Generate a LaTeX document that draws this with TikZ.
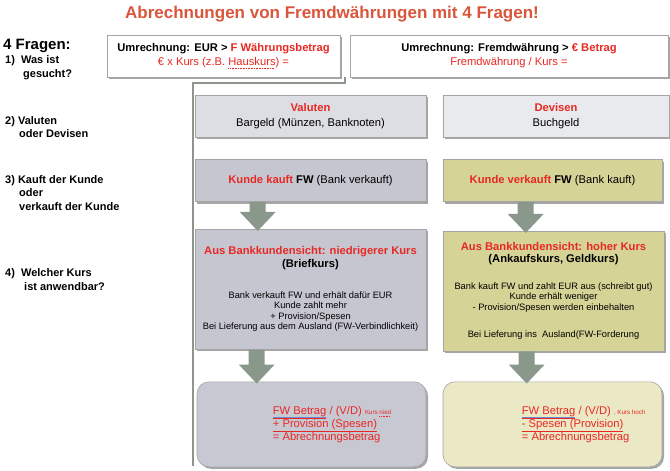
\documentclass[tikz,border=0pt]{standalone}
\usepackage{fontspec}
\setmainfont{Liberation Sans}
\usetikzlibrary{positioning, calc, shadows}

\definecolor{titelRot}{RGB}{217, 85, 60}
\definecolor{textRot}{RGB}{232, 40, 35}
\definecolor{rahmenGrau}{RGB}{165, 165, 165}
\definecolor{linieGrau}{RGB}{140, 150, 140}
\definecolor{pfeilGruen}{RGB}{138, 152, 140}
\definecolor{blauLinie}{RGB}{110, 140, 210}
\definecolor{valutenGrau}{RGB}{221, 222, 228}
\definecolor{devisenGrau}{RGB}{233, 234, 238}
\definecolor{kaufLila}{RGB}{198, 198, 209}
\definecolor{verkaufOliv}{RGB}{214, 211, 150}
\definecolor{ergLila}{RGB}{200, 200, 211}
\definecolor{ergOliv}{RGB}{235, 232, 198}

% rote Unterstreichung mit blauer Linie darunter
\newcommand{\doppelunter}[1]{\setbox0\hbox{#1}\underline{\copy0}\llap{\color{blauLinie}\rule[-3.8pt]{\wd0}{0.6pt}}}
% gepunktete Unterstreichung (Rechtschreibmarke)
\newcommand{\wellig}[1]{\setbox0\hbox{#1}\copy0\llap{\hbox to \wd0{\color{textRot}\leaders\hbox{\rule[-2.6pt]{0.9pt}{0.6pt}\kern0.7pt}\hfill}}}

\begin{document}
\begin{tikzpicture}[
      x=1pt, y=-1pt,
      kasten/.style={
        rectangle, draw=rahmenGrau, line width=0.6pt, align=center, inner sep=2pt,
        drop shadow={shadow xshift=2pt, shadow yshift=-2pt, fill=black, opacity=0.35},
        font=\fontsize{11.2}{14}\selectfont
      },
      frage/.style={kasten, fill=white, line width=0.9pt, minimum height=42pt},
      zeile/.style={kasten, minimum height=42pt},
      kurs/.style={kasten, minimum height=120pt, font=\fontsize{9.3}{10.6}\selectfont},
      ergebnis/.style={kasten, rounded corners=12pt, minimum height=85pt},
      ergtext/.style={font=\fontsize{11.2}{13}\selectfont, text=textRot, align=left, anchor=west, inner sep=0pt},
      marke/.style={font=\fontsize{11}{13.6}\selectfont\bfseries, align=left, anchor=west, inner sep=0pt},
      blockpfeil/.style={fill=pfeilGruen},
      trenn/.style={draw=linieGrau, line width=1.1pt},
    ]
      \useasboundingbox (0,0) rectangle (670,471);

      % Titel
      \node[font=\fontsize{17}{20}\selectfont\bfseries, text=titelRot] (titel) at (332,14)
        {Abrechnungen von Fremdwährungen mit 4 Fragen!};

      % Fragen links
      \node[font=\fontsize{15}{17}\selectfont\bfseries, anchor=west, inner sep=0pt] (fragen) at (3,46) {4 Fragen:};
      \node[marke] (f1) at (5,67.5) {1)\ \ Was ist\\\hspace*{18pt}gesucht?};
      \node[marke] (f2) at (5,127) {2) Valuten\\\hspace*{14pt}oder Devisen};
      \node[marke] (f3) at (5,193) {3) Kauft der Kunde\\\hspace*{14pt}oder\\\hspace*{14pt}verkauft der Kunde};
      \node[marke] (f4) at (5,279.5) {4)\ \ Welcher Kurs\\\hspace*{19pt}ist anwendbar?};

      % Umrechnung
      \node[frage, minimum width=233pt] (q1) at (223.5,56)
        {\bfseries Umrechnung: EUR > \textcolor{textRot}{F Währungsbetrag}\\
         \textcolor{textRot}{€ x Kurs (z.B. \wellig{Hauskurs}) =}};
      \node[frage, minimum width=318pt] (q2) at (509,56)
        {\bfseries Umrechnung: Fremdwährung > \textcolor{textRot}{€ Betrag}\\
         \textcolor{textRot}{Fremdwährung / Kurs =}};

      % Trennlinie
      \draw[trenn] (345,77) -- (345,83) -- (193,83) -- (193,466);

      % linke Spalte
      \node[zeile, fill=valutenGrau, minimum width=231pt] (val) at (310.5,116)
        {\textcolor{textRot}{\bfseries Valuten}\\[1pt]Bargeld (Münzen, Banknoten)};
      \node[zeile, fill=kaufLila, minimum width=231pt, below=22pt of val] (kauft)
        {\textcolor{textRot}{\bfseries Kunde kauft} \textbf{FW} (Bank verkauft)};
      \node[kurs, fill=kaufLila, minimum width=231pt, below=27pt of kauft] (kurs1)
        {{\fontsize{11.2}{13}\selectfont\bfseries\color{textRot}Aus Bankkundensicht: niedrigerer Kurs}\\[2.4pt]
         {\fontsize{11.2}{13}\selectfont\bfseries (Briefkurs)}\\[20pt]
         Bank verkauft FW und erhält dafür EUR\\
         Kunde zahlt mehr\\
         + Provision/Spesen\\
         Bei Lieferung aus dem Ausland (FW-Verbindlichkeit)};
      \node[ergebnis, fill=ergLila, minimum width=229pt, below=32pt of kurs1, xshift=1pt] (erg1) {};
      \node[ergtext] (e1) at ([xshift=76pt]erg1.west)
        {\doppelunter{FW Betrag} / (V/D) {\fontsize{6.2}{7}\selectfont Kurs \wellig{nied}}\\
         \underline{+ Provision (Spesen)}\\
         = Abrechnungsbetrag};

      % rechte Spalte
      \node[zeile, fill=devisenGrau, minimum width=226pt] (dev) at (556,116)
        {\textcolor{textRot}{\bfseries Devisen}\\[1pt]Buchgeld};
      \node[zeile, fill=verkaufOliv, minimum width=219pt, below=22pt of dev, xshift=-3.5pt] (verk)
        {\textcolor{textRot}{\bfseries Kunde verkauft} \textbf{FW} (Bank kauft)};
      \node[kurs, fill=verkaufOliv, minimum width=221pt, below=29pt of verk, xshift=1pt] (kurs2)
        {{\fontsize{11.2}{13}\selectfont\bfseries\color{textRot}Aus Bankkundensicht: hoher Kurs}\\[1.4pt]
         {\fontsize{11.2}{13}\selectfont\bfseries (Ankaufskurs, Geldkurs)}\\[16pt]
         Bank kauft FW und zahlt EUR aus (schreibt gut)\\
         Kunde erhält weniger\\
         - Provision/Spesen werden einbehalten\\[17pt]
         Bei Lieferung ins\ \ Ausland(FW-Forderung};
      \node[ergebnis, fill=ergOliv, minimum width=219pt, below=30pt of kurs2, xshift=-1pt] (erg2) {};
      \node[ergtext] (e2) at ([xshift=79pt]erg2.west)
        {\doppelunter{FW Betrag} / (V/D) {\fontsize{6.2}{7}\selectfont , Kurs hoch}\\
         \underline{- Spesen (Provision)}\\
         = Abrechnungsbetrag};

      % Blockpfeile
      \foreach \von/\nach/\dx in {kauft/kurs1/63, kurs1/erg1/62, verk/kurs2/83, kurs2/erg2/84} {
        \path let \p1=(\von.south west), \p2=(\nach.north west) in
          [blockpfeil] ({\x1+\dx*1pt-8pt},\y1) -- ({\x1+\dx*1pt+8pt},\y1)
          -- ({\x1+\dx*1pt+8pt},\y2+17pt) -- ({\x1+\dx*1pt+18pt},\y2+17pt)
          -- ({\x1+\dx*1pt},\y2-2pt) -- ({\x1+\dx*1pt-18pt},\y2+17pt)
          -- ({\x1+\dx*1pt-8pt},\y2+17pt) -- cycle;
      }
    \end{tikzpicture}
\end{document}
